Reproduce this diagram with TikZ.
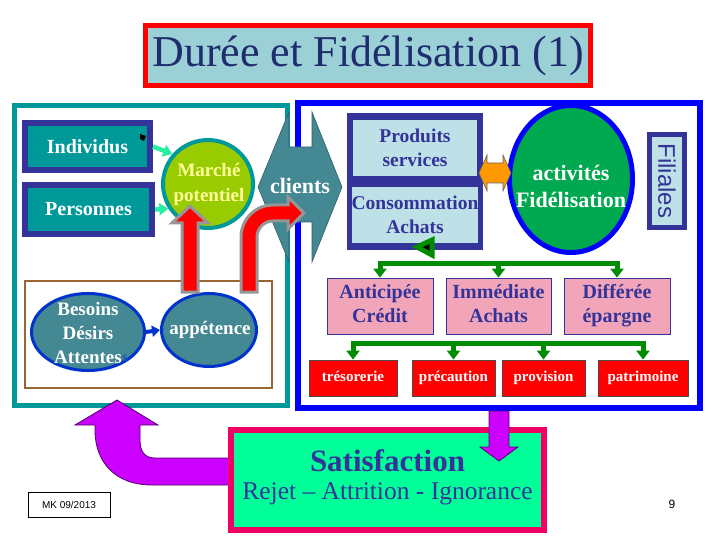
\documentclass[tikz,border=0pt]{standalone}
\usepackage{fontspec}
\setmainfont{Liberation Serif}
\newfontfamily\arialf{Liberation Sans}
\usetikzlibrary{shapes.geometric,arrows.meta}
\newcommand\myfs[2]{\fontsize{#1}{#2}\selectfont}
\definecolor{tealc}{RGB}{0,153,153}
\definecolor{navyc}{RGB}{51,51,153}
\definecolor{titlefill}{RGB}{155,208,215}
\definecolor{titletxt}{RGB}{31,45,110}
\definecolor{clientc}{RGB}{68,136,148}
\definecolor{lightb}{RGB}{190,225,232}
\definecolor{yg}{RGB}{153,204,0}
\definecolor{lyellow}{RGB}{255,255,153}
\definecolor{greenc}{RGB}{0,168,80}
\definecolor{pinkc}{RGB}{242,165,185}
\definecolor{gline}{RGB}{0,140,0}
\definecolor{purplec}{RGB}{204,0,255}
\definecolor{dpurple}{RGB}{80,0,110}
\definecolor{satborder}{RGB}{240,0,100}
\definecolor{satfill}{RGB}{0,255,153}
\definecolor{brownc}{RGB}{153,102,51}
\definecolor{springc}{RGB}{40,240,160}
\definecolor{ellblue}{RGB}{0,51,204}
\definecolor{orangec}{RGB}{255,153,0}
\definecolor{grayb}{RGB}{150,150,150}
\tikzset{
  tealbox/.style={draw=navyc,line width=6pt,fill=tealc,text=white,
    font=\bfseries\myfs{20}{22},inner sep=0pt},
  lbbox/.style={fill=lightb,text=navyc,font=\bfseries\myfs{19.5}{24},
    align=center,inner sep=0pt,minimum width=124pt,minimum height=56pt},
  pinkbox/.style={draw=navyc,line width=0.8pt,fill=pinkc,text=navyc,
    font=\bfseries\myfs{20}{24},align=center,inner sep=0pt,
    minimum height=56pt},
  redbox/.style={draw=black!70,line width=0.8pt,fill=red,text=white,
    font=\bfseries\myfs{15}{16},inner sep=0pt,minimum height=36pt},
  gline/.style={draw=gline,line width=5pt},
  garrow/.style={draw=gline,line width=5pt,
    -{Triangle[length=9pt,width=13pt]}},
  sarrow/.style={draw=springc,line width=4.5pt,
    -{Triangle[length=9pt,width=12pt]}},
  redarrow/.style={fill=red,draw=grayb,line width=3pt,line join=miter},
  ellnode/.style={ellipse,draw=ellblue,line width=3pt,fill=clientc,inner sep=0pt},
  elltxt/.style={text=white,font=\bfseries\myfs{19}{24},align=center,inner sep=0pt},
}
\begin{document}
\begin{tikzpicture}[x=1pt,y=-1pt]
\useasboundingbox (0,0) rectangle (720,540);

% title
\node[draw=red,line width=5pt,fill=titlefill,minimum width=445pt,
  minimum height=60pt,inner sep=0pt,text=titletxt,font=\myfs{44}{50}]
  (title) at (368,56) {Durée et Fidélisation (1)};

% frames
\draw[tealc,line width=5pt] (14.5,105.5) rectangle (287.5,405);
\draw[blue,line width=6pt] (298,103) rectangle (700,408);

% brown rectangle
\draw[brownc,line width=2.5pt] (25,281) rectangle (272,388);

% left boxes
\node[tealbox,minimum width=125pt,minimum height=47pt] (ind) at (87.5,146.5) {Individus};
\node[tealbox,minimum width=127pt,minimum height=49pt] (pers) at (88.5,209.5) {Personnes};
\fill[black] (140,134) -- (146,136) -- (144,141) -- (140,139) -- cycle;

% marche potentiel
\node[ellipse,draw=tealc,line width=4pt,fill=yg,minimum width=90pt,
  minimum height=88pt,inner sep=0pt] (mp) at (208,184) {};
\node[text=lyellow,align=center,inner sep=0pt,font=\bfseries\myfs{19}{25}]
  (mpt) at (209,184) {Marché\\potentiel};
\draw[sarrow] (ind.east) -- (mp.140);
\draw[sarrow] (pers.east) -- (mp.212);

% clients double arrow
\draw[fill=clientc,draw=clientc!70!black,line width=0.6pt]
  (258,187) -- (289,112) -- (289,147) -- (312,147) -- (312,112) -- (342,187)
  -- (312,262) -- (312,222) -- (289,222) -- (289,262) -- cycle;
\node[text=white,font=\bfseries\myfs{22}{24}] (cl) at (300,186) {clients};

% ellipses
\node[ellnode,minimum width=113pt,minimum height=77pt] (bes) at (88,332) {};
\node[elltxt] (best) at (88,333) {Besoins\\Désirs\\Attentes};
\node[text=ellblue!60!clientc,font=\bfseries\myfs{14}{16}] at (125,358) {s};
\node[ellnode,minimum width=95pt,minimum height=73pt] (app) at (209,330) {};
\node[elltxt] (appt) at (210,330) {appétence};
\draw[ellblue,line width=4pt,-{Triangle[length=8pt,width=11pt]}] (bes.east) -- (app.west);

% red arrows
\draw[redarrow] (182,292) -- (182,223) -- (172,223) -- (190,206) -- (208,223)
  -- (198,223) -- (198,292) -- cycle;
\draw[redarrow] (241,292) -- (241,237) .. controls (241,219.3) and (255.3,205) ..
  (273,205) -- (288,205) -- (288,197) -- (304,213) -- (288,229) -- (288,221)
  -- (273,221) .. controls (264.2,221) and (257,228.2) .. (257,237)
  -- (257,292) -- cycle;

% produits / consommation
\node[fill=navyc,minimum width=136pt,minimum height=137pt,inner sep=0pt]
  (pbox) at (415,181.5) {};
\node[lbbox] (ps) at (415,148) {Produits\\services};
\node[lbbox] (ca) at (415,215) {Consommation\\Achats};
\fill[gline] (417,247) -- (432,240) -- (432,255) -- cycle;

% activites fidelisation
\node[ellipse,draw=blue,line width=5pt,fill=greenc,minimum width=123pt,
  minimum height=147pt,inner sep=0pt] (act) at (571,179) {};
\node[text=white,align=center,inner sep=0pt,font=\bfseries\myfs{22}{27}]
  (actt) at (571,186) {activités\\Fidélisation};

% orange double arrow
\draw[fill=orangec,draw=black!60,line width=0.6pt]
  (479,173) -- (487,155) -- (487,163) -- (503,163) -- (503,155) -- (511,173)
  -- (503,191) -- (503,183) -- (487,183) -- (487,191) -- cycle;

% filiales
\node[draw=navyc,line width=5pt,fill=lightb,rotate=-90,minimum width=93pt,
  minimum height=35pt,inner sep=0pt,text=navyc,font=\arialf\myfs{24}{26}]
  (fil) at (667,181) {Filiales};

% pink boxes
\node[pinkbox,minimum width=106pt] (ant) at (380,306) {Anticipée\strut\\Crédit\strut};
\node[pinkbox,minimum width=105pt] (imm) at (498.5,306) {Immédiate\strut\\Achats\strut};
\node[pinkbox,minimum width=106pt] (dif) at (617,306) {Différée\strut\\épargne\strut};
\coordinate (j1) at (498,263);
\draw[gline] ([xshift=-2.5pt]ant.north |- j1) -- ([xshift=2.5pt]dif.north |- j1);
\draw[garrow] (ant.north |- j1) -- (ant.north);
\draw[garrow] (imm.north |- j1) -- (imm.north);
\draw[garrow] (dif.north |- j1) -- (dif.north);

% red boxes
\node[redbox,minimum width=88pt] (tre) at (353,378) {trésorerie\strut};
\node[redbox,minimum width=83pt] (pre) at (453.5,378) {précaution\strut};
\node[redbox,minimum width=83pt] (pro) at (543.5,378) {provision\strut};
\node[redbox,minimum width=90pt] (pat) at (643,378) {patrimoine\strut};
\coordinate (j2) at (498,343);
\draw[gline] ([xshift=-2.5pt]tre.north |- j2) -- ([xshift=2.5pt]pat.north |- j2);
\draw[garrow] (tre.north |- j2) -- (tre.north);
\draw[garrow] (pre.north |- j2) -- (pre.north);
\draw[garrow] (pro.north |- j2) -- (pro.north);
\draw[garrow] (pat.north |- j2) -- (pat.north);

% purple bent arrow
\draw[fill=purplec,draw=dpurple,line width=0.8pt]
  (117,400) -- (158,425) -- (140,425) -- (140,440)
  .. controls (140,452) and (145,458) .. (155,458) -- (232,458) -- (232,485)
  -- (152,485) .. controls (115,485) and (95,462) .. (95,430)
  -- (95,425) -- (75,425) -- cycle;

% satisfaction
\node[draw=satborder,line width=6pt,fill=satfill,minimum width=313pt,
  minimum height=100pt,inner sep=0pt] (sat) at (387.5,480) {};
\node[text=navyc,font=\bfseries\myfs{31}{33}] (satt) at (387.5,461) {Satisfaction};
\node[text=navyc,font=\myfs{25.5}{27}] (rej) at (387.5,494) {Rejet – Attrition - Ignorance};

% purple down arrow
\draw[fill=purplec,draw=dpurple,line width=0.8pt]
  (489,411) -- (489,447) -- (480,447) -- (499,461) -- (518,447) -- (509,447)
  -- (509,411) -- cycle;

% footer
\node[draw=black,line width=0.6pt,minimum width=82pt,minimum height=25pt,
  inner sep=0pt,font=\arialf\myfs{10}{12}] (mk) at (69,504.5) {MK 09/2013};
\node[font=\arialf\myfs{12}{14}] (pg) at (672,504) {9};
\end{tikzpicture}
\end{document}
